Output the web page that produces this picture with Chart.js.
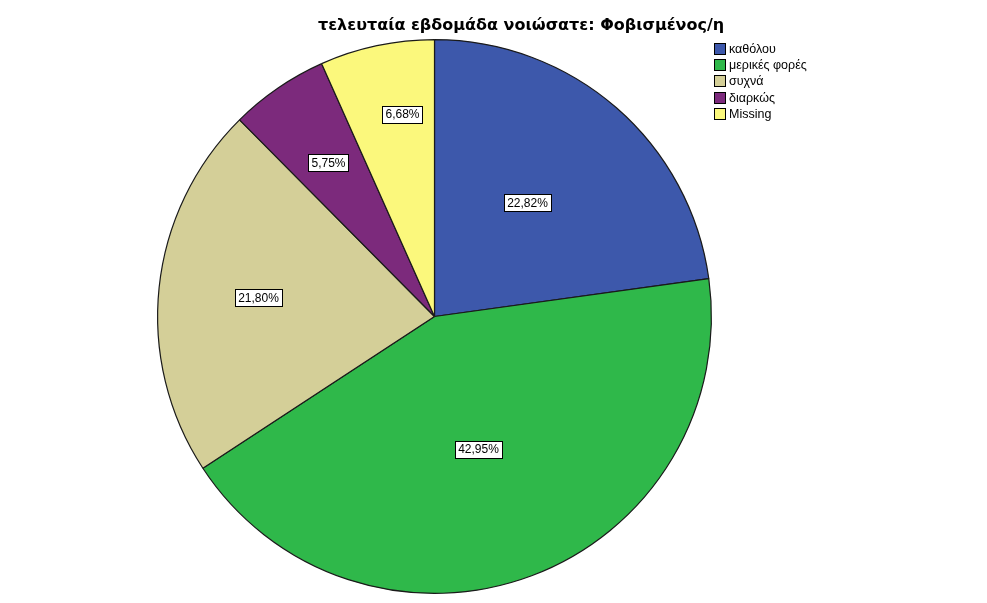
<!DOCTYPE html>
<html>
<head>
<meta charset="utf-8">
<script src="https://cdn.jsdelivr.net/npm/chart.js@4/dist/chart.umd.min.js"></script>
<style>
html,body{margin:0;padding:0;background:#fff;}
#wrap{width:987px;height:603px;position:relative;}
</style>
</head>
<body>
<div id="wrap"><canvas id="c" width="987" height="603"></canvas></div>
<script>
const chartTitle = "τελευταία εβδομάδα νοιώσατε: Φοβισμένος/η";
const categories = ["καθόλου", "μερικές φορές", "συχνά", "διαρκώς", "Missing"];
const percentages = [22.82, 42.95, 21.80, 5.75, 6.68];
const sliceColors = ["#3d58ab", "#2fb84a", "#d4cf98", "#7c2a7c", "#fbf87c"];
const labelRadiusFraction = [0.53, 0.505, 0.64, 0.677, 0.74];
const labelAngleShiftDeg = [-1.9, 2.2, 0, -0.4, 3];

function fmt(v){ return v.toFixed(2).replace('.', ',') + '%'; }

const overlay = {
  id: 'overlay',
  afterDraw(chart){
    const ctx = chart.ctx;
    ctx.save();
    // Title
    ctx.font = 'bold 16px "DejaVu Sans", sans-serif';
    ctx.fillStyle = '#000';
    ctx.textAlign = 'left';
    ctx.textBaseline = 'alphabetic';
    ctx.fillText(chartTitle, 318, 30);
    // Slice labels
    const meta = chart.getDatasetMeta(0);
    ctx.font = '12px "Liberation Sans", Arial, sans-serif';
    meta.data.forEach((arc, i) => {
      const mid = (arc.startAngle + arc.endAngle) / 2 + labelAngleShiftDeg[i] * Math.PI / 180;
      const r = arc.outerRadius * labelRadiusFraction[i];
      const x = arc.x + Math.cos(mid) * r;
      const y = arc.y + Math.sin(mid) * r;
      const txt = fmt(percentages[i]);
      const w = ctx.measureText(txt).width + 6;
      const h = 17;
      ctx.fillStyle = '#fff';
      ctx.fillRect(Math.round(x - w/2) + 0.5, Math.round(y - h/2) + 0.5, Math.round(w), h);
      ctx.strokeStyle = '#000';
      ctx.lineWidth = 1;
      ctx.strokeRect(Math.round(x - w/2) + 0.5, Math.round(y - h/2) + 0.5, Math.round(w), h);
      ctx.fillStyle = '#000';
      ctx.textAlign = 'center';
      ctx.textBaseline = 'middle';
      ctx.fillText(txt, Math.round(x) + 0.5, Math.round(y) + 1);
    });
    // Legend
    ctx.font = '12.5px "Liberation Sans", Arial, sans-serif';
    ctx.textAlign = 'left';
    ctx.textBaseline = 'middle';
    categories.forEach((c, i) => {
      const y = 43 + i * 16.2;
      ctx.fillStyle = sliceColors[i];
      ctx.fillRect(714.5, Math.round(y) + 0.5, 11, 11);
      ctx.strokeStyle = '#000';
      ctx.lineWidth = 1;
      ctx.strokeRect(714.5, Math.round(y) + 0.5, 11, 11);
      ctx.fillStyle = '#000';
      ctx.fillText(c, 729, Math.round(y) + 6.5);
    });
    ctx.restore();
  }
};

new Chart(document.getElementById('c'), {
  type: 'pie',
  data: {
    labels: categories,
    datasets: [{
      data: percentages,
      backgroundColor: sliceColors,
      borderColor: '#1a1a1a',
      borderWidth: 1.2
    }]
  },
  options: {
    responsive: false,
    animation: false,
    rotation: 0,
    layout: { padding: { top: 39, bottom: 9, left: 157, right: 275 } },
    plugins: {
      legend: { display: false },
      title: { display: false },
      tooltip: { enabled: false }
    }
  },
  plugins: [overlay]
});
</script>
</body>
</html>
